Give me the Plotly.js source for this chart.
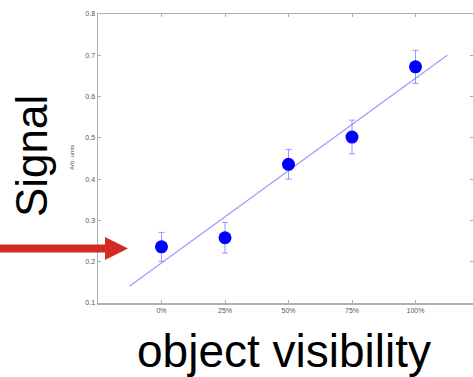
<!DOCTYPE html>
<html>
<head>
<meta charset="utf-8">
<script src="https://cdn.plot.ly/plotly-3.0.1.min.js"></script>
<style>html,body{margin:0;padding:0;background:#fff;overflow:hidden;}</style>
</head>
<body>
<div id="chart" style="width:473px;height:377px;"></div>
<script>
// Data
const categories = ["0%", "25%", "50%", "75%", "100%"];
const catIndex = [0, 1, 2, 3, 4];
const signalValues = [0.236, 0.258, 0.436, 0.502, 0.672];
const signalErrors = [0.035, 0.037, 0.036, 0.041, 0.040];
const fitX = [-0.5, 4.5];
const fitY = [0.141, 0.700];
const yTickVals = [0.1, 0.2, 0.3, 0.4, 0.5, 0.6, 0.7, 0.8];
const yTickText = ["0.1", "0.2", "0.3", "0.4", "0.5", "0.6", "0.7", "0.8"];

// layout geometry (pixels)
const W = 473, H = 377, L = 98, T = 14, B = 74, R = 0;
const pw = W - L - R, ph = H - T - B;
const px = x => (x - L) / pw;
const py = y => (H - B - y) / ph;

const arrowPts = [[0,244.5],[105,244.5],[105,237],[128,248.5],[105,260],[105,252.5],[0,252.5]];
const arrowPath = 'M ' + arrowPts.map(p => px(p[0]).toFixed(4) + ',' + py(p[1]).toFixed(4)).join(' L ') + ' Z';

const traces = [
  {
    x: fitX, y: fitY, type: 'scatter', mode: 'lines',
    line: {color: 'rgba(120,120,255,0.75)', width: 1.2},
    hoverinfo: 'skip', showlegend: false
  },
  {
    x: catIndex, y: signalValues, type: 'scatter', mode: 'markers',
    marker: {color: '#0000ff', size: 13},
    error_y: {type: 'data', array: signalErrors, visible: true, color: 'rgba(110,110,255,0.7)', thickness: 1, width: 3},
    showlegend: false
  }
];

const layout = {
  width: W, height: H,
  margin: {l: L, r: R, t: T, b: B, pad: 0},
  paper_bgcolor: '#fff', plot_bgcolor: '#fff',
  font: {family: 'Liberation Sans, Arial, sans-serif', color: '#555'},
  xaxis: {
    range: [-1, -1 + pw / 63.5],
    tickvals: catIndex, ticktext: categories,
    ticks: 'inside', ticklen: 3, tickcolor: '#aaa', tickwidth: 1,
    showline: true, linecolor: '#b0b0b0', linewidth: 1.5, mirror: 'ticks',
    showgrid: false, zeroline: false,
    tickfont: {size: 7, color: '#555'}
  },
  yaxis: {
    range: [0.1, 0.8],
    tickvals: yTickVals, ticktext: yTickText,
    ticks: 'inside', ticklen: 3, tickcolor: '#aaa', tickwidth: 1,
    showline: true, linecolor: '#b0b0b0', linewidth: 1.5, mirror: 'ticks',
    showgrid: false, zeroline: false,
    tickfont: {size: 7, color: '#555'}
  },
  shapes: [
    {type: 'path', xref: 'paper', yref: 'paper', path: arrowPath,
     fillcolor: '#d42a24', line: {width: 0}, layer: 'above'}
  ],
  annotations: [
    {text: 'Signal', xref: 'paper', yref: 'paper', x: px(31), y: py(156),
     xanchor: 'center', yanchor: 'middle', textangle: -90, showarrow: false,
     font: {family: 'Liberation Sans, Arial, sans-serif', size: 44, color: '#000'}},
    {text: 'Arb. units', xref: 'paper', yref: 'paper', x: px(72), y: py(158),
     xanchor: 'center', yanchor: 'middle', textangle: -90, showarrow: false,
     font: {family: 'Liberation Sans, Arial, sans-serif', size: 6, color: '#555'}},
    {text: 'object visibility', xref: 'paper', yref: 'paper', x: px(284), y: py(351),
     xanchor: 'center', yanchor: 'middle', showarrow: false,
     font: {family: 'Liberation Sans, Arial, sans-serif', size: 46, color: '#000'}}
  ]
};

Plotly.newPlot('chart', traces, layout, {displayModeBar: false, staticPlot: true});
</script>
</body>
</html>
